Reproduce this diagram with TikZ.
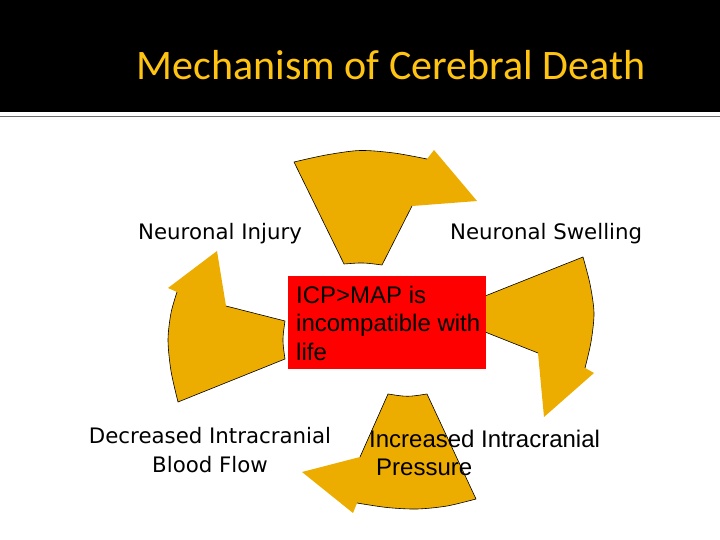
\documentclass[tikz,border=0pt]{standalone}
\usepackage{fontspec}
\setmainfont{DejaVu Sans}
\newfontfamily\arialfont{Liberation Sans}
\newfontfamily\titlefont{Carlito}
\definecolor{gold}{RGB}{236,172,0}
\definecolor{titlegold}{RGB}{255,196,18}
\definecolor{rulegray}{RGB}{110,110,110}
\begin{document}
\begin{tikzpicture}[x=1pt,y=-1pt,
  arrowfill/.style={fill=gold},
  arrowline/.style={draw=black, line width=0.6pt, line join=round},
  lbl/.style={inner sep=0pt, anchor=base west, font=\fontsize{21.3}{29}\selectfont},
  arialtxt/.style={inner sep=0pt, font=\arialfont\fontsize{24}{28.5}\selectfont}]
\useasboundingbox (0,0) rectangle (720,540);
% header band
\fill[black] (0,0) rectangle (720,112);
\draw[rulegray, line width=1.2pt] (0,116.5) -- (720,116.5);
\node[inner sep=0pt, anchor=base, text=titlegold, font=\titlefont\fontsize{42}{50}\selectfont] (title) at (391,80) {Mechanism of Cerebral Death};
% top arrow
\path[arrowfill] plot[smooth] coordinates {(294,162) (326,155) (360,150.5) (394,153) (427,159)} -- (434,150) -- (477,201) -- (412,206) -- (382,265) .. controls (363,262.5) .. (344,264) -- cycle;
\draw[arrowline] plot[smooth] coordinates {(427,159) (394,153) (360,150.5) (326,155) (294,162)} -- (344,264) .. controls (363,262.5) .. (382,265) -- (412,206);
% left arrow
\path[arrowfill] (217,251) -- (226,306) -- (285,321) .. controls (282.3,340) .. (285,359) -- plot[smooth] coordinates {(178,402) (171,371) (168,340) (171,313) (177,292)} -- (168,288) -- cycle;
\draw[arrowline] plot[smooth] coordinates {(177,292) (171,313) (168,340) (171,371) (178,402)} -- (285,359) .. controls (282.3,340) .. (285,321) -- (226,306);
% right arrow
\path[arrowfill] plot[smooth] coordinates {(583,257) (590,284) (594,313) (591,342) (585,368)} -- (594,373) -- (544,417) -- (538,353) -- (475,328) .. controls (478,314) .. (475,300) -- cycle;
\draw[arrowline] (538,353) -- (475,328) .. controls (478,314) .. (475,300) -- plot[smooth] coordinates {(583,257) (590,284) (594,313) (591,342) (585,368)};
% bottom arrow
\path[arrowfill] (388,394) .. controls (407.5,397) .. (427,394) -- plot[smooth] coordinates {(476,499) (447,506) (417,509) (387,507.5) (357,503)} -- (353,513) -- (302,472) -- (360,457) -- cycle;
\draw[arrowline] (360,457) -- (388,394) .. controls (407.5,397) .. (427,394) -- plot[smooth] coordinates {(476,499) (447,506) (417,509) (387,507.5) (357,503)};
% central box
\fill[red] (288,276) rectangle (486,369);
\node[arialtxt, anchor=base west] (center) at (296,303) {\parbox[t]{186pt}{\raggedright ICP>MAP is\\incompatible with\\life}};
% labels
\node[lbl] (injury) at (138,240) {Neuronal Injury};
\node[lbl] (swelling) at (450,240) {Neuronal Swelling};
\node[lbl, anchor=base] (flow) at (210,443) {\parbox[t]{260pt}{\centering Decreased Intracranial\\Blood Flow}};
\node[arialtxt, anchor=base west] (pressure) at (369,447) {\parbox[t]{260pt}{\raggedright Increased Intracranial\\\hspace*{7pt}Pressure}};
\end{tikzpicture}
\end{document}
